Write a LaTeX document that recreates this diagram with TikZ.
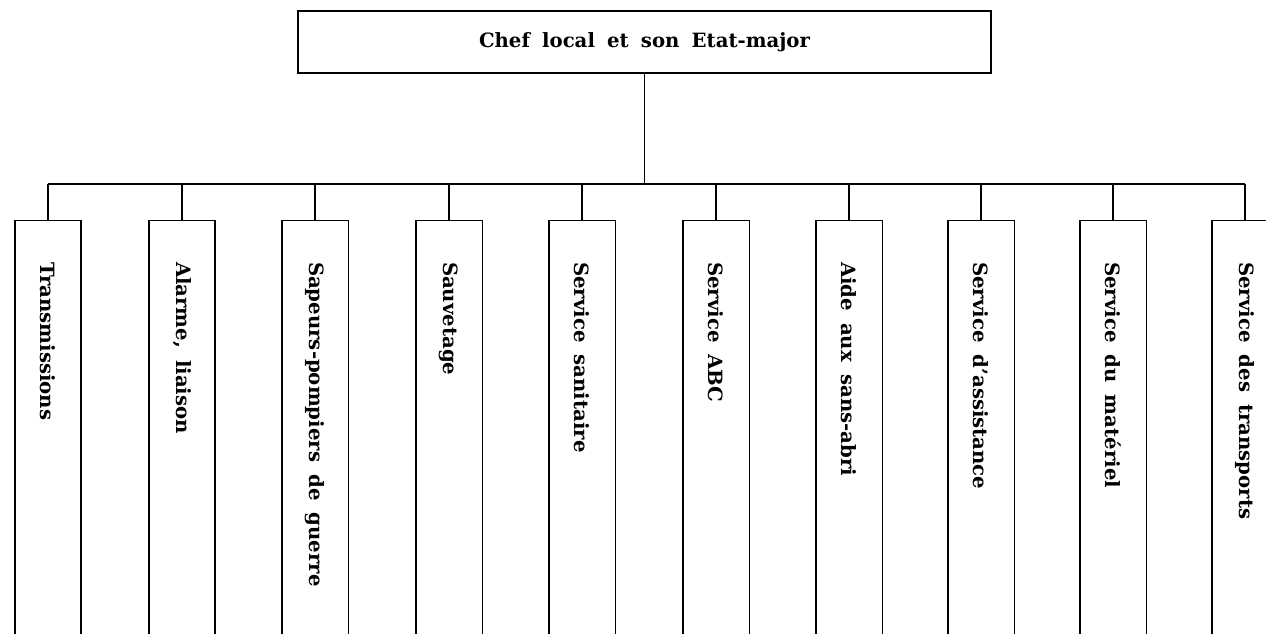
\documentclass[tikz,border=0pt]{standalone}
\usepackage{fontspec}
\setmainfont{DejaVu Serif}
\usetikzlibrary{calc}
\newcommand{\lblfont}{\bfseries\fontsize{11.2}{14}\selectfont\spaceskip=0.62em plus 0.1em}
\tikzset{
  lbl/.style={font=\lblfont, inner sep=0pt},
  topbox/.style={draw, minimum width=13.86cm, minimum height=1.24cm, inner sep=0pt, font=\lblfont},
  unitbox/.style={minimum width=1.30cm, minimum height=8.26cm, inner sep=0pt},
}
\begin{document}
\begin{tikzpicture}[x=0.02cm,y=-0.02cm,line width=0.8pt]
\useasboundingbox (0,0) rectangle (1266,634);
\clip (0,0) rectangle (1266,634);
\node[topbox] (chef) at (644.5,42) {Chef local et son Etat-major};
\coordinate (bus) at (645,184);
\foreach \i/\x/\t in {1/48/Transmissions, 2/182/{Alarme, liaison}, 3/315/{Sapeurs-pompiers de guerre}, 4/449/Sauvetage, 5/582/{Service sanitaire}, 6/716/{Service ABC}, 7/849/{Aide aux sans-abri}, 8/981/{Service d'assistance}, 9/1113/{Service du matériel}, 10/1245/{Service des transports}}{
  \node[unitbox] (b\i) at (\x,427.5) {};
  \draw (b\i.south west) -- (b\i.north west) -- (b\i.north east) -- (b\i.south east);
  \draw (b\i.north |- bus) -- (b\i.north);
  \node[lbl, rotate=-90, anchor=west] (t\i) at ($(b\i.north)+(0,41)$) {\t};
}
\draw (chef.south) -- (chef.south |- bus);
\draw (b1.north |- bus) -- (b10.north |- bus);
\end{tikzpicture}
\end{document}
